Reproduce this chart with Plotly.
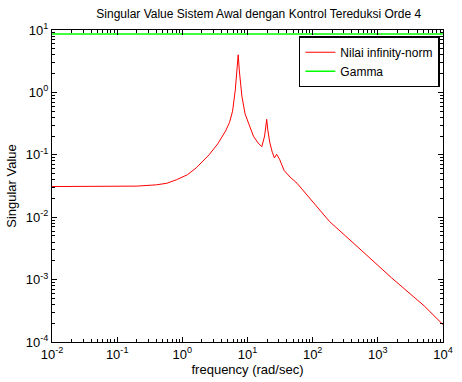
import plotly.graph_objects as go

freq = [0.01, 0.03, 0.1, 0.2, 0.4, 0.58, 0.82, 1.2, 1.64, 2.57, 3.5, 4.6, 5.3, 5.9, 6.5, 7.0, 7.2,
        7.5, 8.2, 9.2, 10.5, 12.3, 14.5, 16.6, 18.3, 19.7, 20.5, 21.9, 24, 25.9, 28, 31,
        36.5, 45, 57.5, 100, 182, 513, 1620, 5130, 10000]
sv = [0.031, 0.031, 0.031, 0.0315, 0.033, 0.035, 0.04, 0.048, 0.062, 0.1, 0.15, 0.24, 0.33, 0.5,
      1.1, 2.4, 4.0, 2.2, 0.87, 0.45, 0.3, 0.2, 0.155, 0.135, 0.2, 0.37, 0.25, 0.16, 0.11,
      0.089, 0.102, 0.085, 0.056, 0.044, 0.035, 0.018, 0.0085, 0.0032, 0.00107, 0.00038, 0.00019]
gamma_freq = [0.01, 10000]
gamma_val = [8.6, 8.6]

x_exps = [-2, -1, 0, 1, 2, 3, 4]
y_exps = [-4, -3, -2, -1, 0, 1]

fig = go.Figure()
fig.add_trace(go.Scatter(x=freq, y=sv, mode="lines", name="Nilai infinity-norm",
                         line=dict(color="#ff0000", width=1)))
fig.add_trace(go.Scatter(x=gamma_freq, y=gamma_val, mode="lines", name="Gamma",
                         line=dict(color="#00ff00", width=1.5)))

font = dict(family="Liberation Sans, Arial, sans-serif", size=11, color="black")


def axis_cfg(exps):
    return dict(type="log", showgrid=False,
                tickmode="array",
                tickvals=[10.0 ** e for e in exps],
                ticktext=["10<sup>%d</sup>" % e for e in exps],
                showline=True, linecolor="black", linewidth=1, mirror="allticks",
                ticks="inside", ticklen=5, tickcolor="black", tickwidth=1.2, zeroline=False,
                minor=dict(ticks="inside", ticklen=3, tickcolor="black", tickwidth=1,
                           showgrid=False, dtick="D1"),
                tickfont=dict(family=font["family"], size=13, color="black"))


fig.update_layout(
    width=462, height=382,
    margin=dict(l=52, r=9, t=30, b=37),
    paper_bgcolor="white", plot_bgcolor="white",
    font=font,
    title=dict(text="Singular Value Sistem Awal dengan Kontrol Tereduksi Orde 4",
               x=0.56, xanchor="center", y=0.965, yanchor="middle", font=dict(size=12)),
    showlegend=True,
    legend=dict(x=0.992, xanchor="right", y=0.98, yanchor="top",
                bordercolor="black", borderwidth=1.5, bgcolor="white",
                font=dict(size=12), tracegroupgap=0, itemwidth=30),
)
fig.update_xaxes(range=[-2, 4], title=dict(text="frequency (rad/sec)", standoff=2), **axis_cfg(x_exps))
fig.update_yaxes(range=[-4, 1], title=dict(text="Singular Value", standoff=6), **axis_cfg(y_exps))

fig.write_html("out.html")
